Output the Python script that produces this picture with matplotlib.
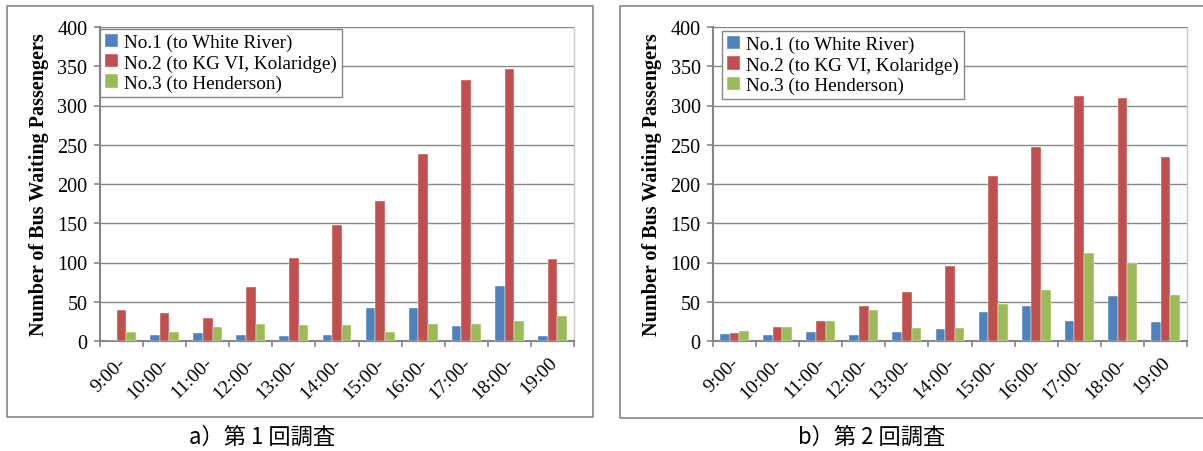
import numpy as np
import matplotlib
matplotlib.use("Agg")
import matplotlib.pyplot as plt
from matplotlib.patches import Rectangle

# Hourly counts of people waiting at the bus stop, per route
hours = ["9:00-", "10:00-", "11:00-", "12:00-", "13:00-", "14:00-",
         "15:00-", "16:00-", "17:00-", "18:00-", "19:00"]
series_names = ["No.1 (to White River)",
                "No.2 (to KG VI, Kolaridge)",
                "No.3 (to Henderson)"]

# first survey
survey1_no1 = [0, 8, 10, 8, 6, 8, 42, 42, 19, 70, 7]
survey1_no2 = [39, 36, 29, 69, 106, 148, 178, 238, 332, 347, 104]
survey1_no3 = [12, 11, 18, 22, 20, 21, 12, 22, 22, 26, 32]

# second survey
survey2_no1 = [9, 8, 12, 8, 12, 15, 37, 45, 25, 57, 24]
survey2_no2 = [10, 18, 26, 44, 62, 96, 210, 247, 312, 309, 235]
survey2_no3 = [13, 18, 26, 39, 17, 17, 47, 65, 112, 100, 58]

captions = ["a）第 1 回調査", "b）第 2 回調査"]

colors = ["#4F81BD", "#C0504D", "#9BBB59"]
grey = "#868686"
serif = ["Liberation Serif", "DejaVu Serif"]

W, H = 1203, 452
fig = plt.figure(figsize=(W / 100, H / 100), dpi=100)


def px_rect(x0, y0, x1, y1):
    # pixel box (top-left origin) -> figure fraction [left, bottom, width, height]
    return [x0 / W, 1 - y1 / H, (x1 - x0) / W, (y1 - y0) / H]


def draw_panel(rect, data, legend_anchor):
    ax = fig.add_axes(rect)
    x = np.arange(len(hours))
    bw = 0.223
    for k, vals in enumerate(data):
        ax.bar(x + (k - 1) * bw, vals, width=bw, color=colors[k],
               edgecolor="white", linewidth=0.3, label=series_names[k], zorder=3)

    ax.set_xlim(-0.5, len(hours) - 0.5)
    ax.set_ylim(0, 400)
    ax.set_yticks(np.arange(0, 401, 50))
    ax.yaxis.grid(True, color=grey, linewidth=1.0, zorder=0)
    ax.set_axisbelow(True)

    # tick marks between the groups, labels under each group
    ax.set_xticks(np.arange(-0.5, len(hours), 1.0))
    ax.set_xticklabels([])
    ax.set_xticks(x - 0.1, minor=True)
    ax.set_xticklabels(hours, minor=True, rotation=45, ha="right",
                       rotation_mode="anchor", fontfamily=serif, fontsize=14)
    ax.tick_params(axis="x", which="minor", length=0, pad=9)
    ax.tick_params(axis="both", which="major", length=4, width=1.2,
                   color=grey, direction="out")
    ax.tick_params(axis="y", labelsize=14.5, pad=5)
    for lab in ax.get_yticklabels():
        lab.set_fontfamily(serif)

    for side in ["left", "bottom"]:
        ax.spines[side].set_color(grey)
        ax.spines[side].set_linewidth(1.5)
    ax.spines["top"].set_visible(False)
    ax.spines["right"].set_color("#c8c8c8")
    ax.spines["right"].set_linewidth(1.0)

    ax.set_ylabel("Number of Bus Waiting Passengers", fontfamily=serif,
                  fontweight="bold", fontsize=14.5, labelpad=6)

    leg = ax.legend(loc="upper left", bbox_to_anchor=legend_anchor,
                    borderaxespad=0, prop={"family": serif, "size": 13.8},
                    handlelength=0.7, handleheight=0.7, handletextpad=0.3,
                    labelspacing=0.15, borderpad=0.25, fancybox=False,
                    framealpha=1)
    leg.get_frame().set_edgecolor(grey)
    leg.get_frame().set_linewidth(1.0)
    return ax


draw_panel(px_rect(100, 28, 574, 342),
           [survey1_no1, survey1_no2, survey1_no3], (0.0, 0.994))
draw_panel(px_rect(713, 28, 1187, 342),
           [survey2_no1, survey2_no2, survey2_no3], (0.019, 0.987))

# outer frames around each chart
for x0, y0, x1, y1 in [(7, 7, 593, 418), (620, 7, 1212, 419)]:
    fig.patches.append(Rectangle((x0 / W, 1 - y1 / H), (x1 - x0) / W,
                                 (y1 - y0) / H, transform=fig.transFigure,
                                 fill=False, edgecolor=grey, linewidth=1.2))

cap_font = ["Noto Sans CJK JP", "DejaVu Sans"]
fig.text(262 / W, 1 - 437 / H, captions[0], ha="center", va="center",
         fontsize=16, family=cap_font)
fig.text(872 / W, 1 - 437 / H, captions[1], ha="center", va="center",
         fontsize=16, family=cap_font)

fig.savefig("out.png", dpi=100)
